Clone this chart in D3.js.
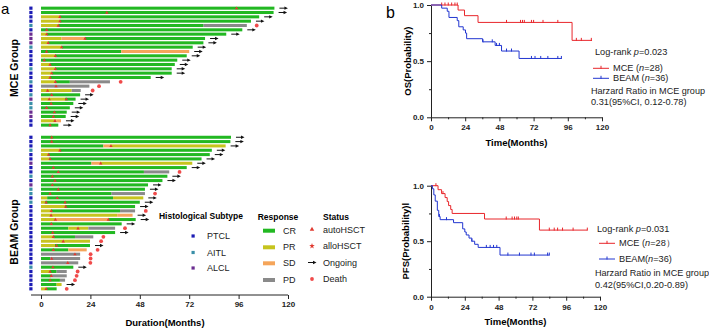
<!DOCTYPE html>
<html>
<head>
<meta charset="utf-8">
<script src="https://cdn.jsdelivr.net/npm/d3@7"></script>
<style>
  body { margin: 0; background: #fff; }
  svg { display: block; font-family: Arial, "Liberation Sans", sans-serif; }
</style>
</head>
<body>
<div id="chart"></div>
<script>
// ---------- swimmer plot data (months) ----------
const mceSubtype = ["P","P","P","P","A","P","L","L","L","A","P","P","P","P","A","P","P","A","P","P","A","L","A","A","L","L","P","P"];
const mceBars = [
  [["CR",113.4]], [["CR",113]], [["PR",9.2],["CR",106]], [["PR",9.2],["CR",102]],
  [["PR",8.4],["CR",79],["PD",100]], [["CR",97.8]], [["PR",2.8],["CR",90]],
  [["PR",10],["SD",21.4],["CR",79.7]], [["PR",3.5],["CR",78.9]], [["PR",10],["CR",73.7]],
  [["CR",39],["SD",72]], [["PR",6.8],["CR",70.8]], [["CR",66.2]], [["PR",4.4],["CR",65]],
  [["PR",6.8],["CR",63.5]], [["PR",5.2],["CR",63.5]], [["PR",4.4],["CR",53.3]],
  [["PR",6.8],["CR",14],["PD",33.5]], [["PD",23.5]], [["PR",14.9],["PD",19.3]],
  [["CR",19]], [["PR",11.7],["CR",16.8]], [["CR",15.7]], [["CR",14]], [["CR",12.5]],
  [["CR",12]], [["PR",7.6],["SD",9.7]], [["CR",8.4]]
];
const mceHsct = [[95],[32],[9.2],[9.2],[8.4],[2.8],[2.8],[21.4],[3.5],[10],[2.7],[7],[1.6],[4.4],
  [7],[5.2],[4.4],[7],[7.3],[3.2],[5.2],[4,12.3],[4.9],[2.7],[6.5],[6],[6.8],[4.4]];
const mceDeath = [null,null,null,null,104.8,null,null,null,null,null,null,null,null,null,
  null,null,null,38.7,28.2,25.1,null,null,null,null,null,null,null,null];

const beamSubtype = ["P","P","P","A","P","P","L","P","P","A","P","L","A","A","P","A","P","P",
  "P","P","P","P","P","P","P","P","P","P","P","P","A","P","P","P","P","P"];
const beamBars = [
  [["CR",92.3]], [["CR",92]], [["CR",30.3],["SD",33.5],["PR",89.7]], [["PR",9.2],["CR",83]],
  [["PR",3.5],["CR",82]], [["PR",4],["CR",78]], [["CR",24.5],["SD",28.7],["PR",73.5]],
  [["CR",70.8]], [["CR",50],["PD",62.3]], [["CR",61.4]], [["CR",59]], [["CR",52]],
  [["CR",50.5]], [["CR",34.3],["PD",50.5]], [["PR",3],["CR",35],["PR",49.7]],
  [["PR",2],["CR",48]], [["PR",11.7],["CR",45.7]], [["PR",4.9],["CR",38.4],["PD",45.7]],
  [["PR",37],["SD",44.5]], [["PR",6.8],["SD",32.7],["CR",46]], [["CR",39.2]],
  [["CR",13.3],["PR",23],["PD",36]], [["CR",36]], [["PR",6],["CR",16.5],["PD",25.4]],
  [["PR",23.8]], [["PR",6.8],["CR",23.8]], [["CR",13.3],["SD",22.2]], [["PD",19]],
  [["CR",4.4],["PD",19]], [["PD",18.1]], [["CR",15.7]], [["PR",4.4],["CR",7.6],["PD",12.5]],
  [["CR",5],["PD",12.5]], [["CR",9.2],["PD",11.7]], [["CR",7.6],["PR",10]], [["PR",2.7],["CR",7.6]]
];
const beamHsct = [[5.2],[5.2],[34],[9.2],[3.7],[4.4],[29],[6],[8.4],[5.5],[6.8],[5.5],[8.4],[4.4],
  [7.9],[2.5,11.7],[12],[5],[4.9],[7,32.7],[5],[18],[5.7],[6],[10.8],[7.6],[6],[16.5],[5.2],[13],
  [5.8],[4.4],[5],[4.4],[],[2.5]];
const beamDeath = [null,null,null,null,null,null,null,null,67.3,null,null,null,null,55.4,null,null,
  null,50.9,null,null,null,40.8,null,30.3,29.2,null,27.5,24.1,24.1,24,null,17.8,17.3,16.5,null,12.5];

const durationTicks = [0, 24, 48, 72, 96, 120];
const subtypeNames = [["P","PTCL"],["A","AITL"],["L","ALCL"]];
const responseNames = ["CR","PR","SD","PD"];
const statusNames = ["autoHSCT","alloHSCT","Ongoing","Death"];

// ---------- Kaplan-Meier data (months, probability) ----------
const osMceTime = [0, 19, 23.5, 33, 99];
const osMceSurv = [1, 0.955, 0.905, 0.845, 0.685];
const osMceCensor = [7.5, 9.8, 12.1, 14.5, 16.8, 18.4, 53, 62.8, 64.2, 65.5, 70.5, 72, 78.6, 89, 102, 105.5, 112.5];
const osMceEnd = 113;
const osBeamTime = [0, 7.5, 11.4, 12.6, 18.4, 19.5, 22.6, 24.2, 25, 36.2, 45, 49.5, 61.8];
const osBeamSurv = [1, 0.972, 0.944, 0.889, 0.861, 0.806, 0.778, 0.75, 0.70, 0.672, 0.64, 0.59, 0.524];
const osBeamCensor = [36.5, 43, 46, 48, 53, 56.5, 70.5, 73, 77, 82, 89, 91.5];
const osBeamEnd = 91.5;

const pfsMceTime = [0, 5, 7.5, 10, 11.5, 12.5, 14, 15, 38, 77];
const pfsMceSurv = [1, 0.964, 0.929, 0.893, 0.857, 0.821, 0.786, 0.75, 0.70, 0.60];
const pfsMceCensor = [3.5, 8.5, 53.4, 57.6, 59.3, 60.9, 62, 84, 87.5, 89.9, 93.4, 100.9, 111];
const pfsMceEnd = 111;
const pfsBeamTime = [0, 1, 2, 3, 4.5, 5.5, 6.5, 16, 22.5, 24, 25, 27, 29, 31, 33.5, 49];
const pfsBeamSurv = [1, 0.972, 0.917, 0.861, 0.778, 0.722, 0.694, 0.667, 0.611, 0.583, 0.556, 0.528, 0.50, 0.472, 0.444, 0.375];
const pfsBeamCensor = [6, 11, 29, 39.3, 42, 44.4, 46.7, 54.6, 62.8, 71, 73.4, 82.8, 84];
const pfsBeamEnd = 84;

const kmTicks = [0, 24, 48, 72, 96, 120];
const kmMinor = [12, 36, 60, 84, 108];

// ---------- colours ----------
const respColor = {CR: "#22b822", PR: "#c6c41e", SD: "#f5a55a", PD: "#8a8a8a"};
const typeColor = {P: "#1c1cb4", A: "#3a8fa8", L: "#6a2d90"};
const red = "#e0392f";
const kmRed = "#e8262b", kmBlue = "#2236d0";

const svg = d3.select("#chart").append("svg")
  .attr("width", 709).attr("height", 328);

// ---------- panel a ----------
const x = d3.scaleLinear().domain([0, 120]).range([41, 288]);
const yMce = d3.scaleBand().domain(d3.range(mceBars.length)).range([6, 127.3]).paddingInner(0.3).paddingOuter(0.15);
const yBeam = d3.scaleBand().domain(d3.range(beamBars.length)).range([135.1, 291]).paddingInner(0.3).paddingOuter(0.15);

const triSmall = d3.symbol().type(d3.symbolTriangle).size(5)();
const tri = d3.symbol().type(d3.symbolTriangle).size(9)();
const star = d3.symbol().type(d3.symbolStar).size(10)();

function drawArrow(g, x0, cy) {
  g.append("line").attr("x1", x0).attr("x2", x0 + 6).attr("y1", cy).attr("y2", cy)
    .attr("stroke", "#111").attr("stroke-width", 1);
  g.append("path").attr("d", `M${x0 + 8.5},${cy} L${x0 + 5},${cy - 1.7} L${x0 + 5},${cy + 1.7} Z`).attr("fill", "#111");
}

function drawGroup(bars, types, hsct, death, y) {
  const g = svg.append("g");
  const bw = y.bandwidth();
  bars.forEach((segs, i) => {
    const cy = y(i) + bw / 2;
    let start = 0;
    segs.forEach(([r, end]) => {
      g.append("rect").attr("x", x(start)).attr("y", y(i))
        .attr("width", x(end) - x(start)).attr("height", bw).attr("fill", respColor[r]);
      start = end;
    });
    g.append("rect").attr("x", 29.3).attr("y", cy - 1.6).attr("width", 3.2).attr("height", 3.2)
      .attr("fill", typeColor[types[i]]);
    hsct[i].forEach(t => g.append("path").attr("d", triSmall)
      .attr("transform", `translate(${x(t)},${cy + 0.2})`).attr("fill", red));
    if (death[i] != null) {
      g.append("circle").attr("cx", x(death[i])).attr("cy", cy).attr("r", 1.9).attr("fill", "#f04a4a");
    } else {
      drawArrow(g, x(start) + 5, cy);
    }
  });
}
drawGroup(mceBars, mceSubtype, mceHsct, mceDeath, yMce);
drawGroup(beamBars, beamSubtype, beamHsct, beamDeath, yBeam);

const axA = svg.append("g").attr("transform", "translate(0,295)")
  .call(d3.axisBottom(x).tickValues(durationTicks).tickSize(4).tickSizeOuter(0));
axA.select(".domain").attr("d", "M31,0H288").attr("stroke", "#222");
axA.selectAll(".tick line").attr("stroke", "#222");
axA.selectAll("text").attr("font-size", 8).attr("font-weight", "bold").attr("dy", "0.6em").attr("fill", "#222");

svg.append("text").attr("x", 165).attr("y", 322).attr("dominant-baseline", "central")
  .attr("text-anchor", "middle").attr("font-size", 9.5).attr("font-weight", "bold").text("Duration(Months)");
svg.append("text").attr("transform", "translate(14,68) rotate(-90)").attr("text-anchor", "middle")
  .attr("dominant-baseline", "central").attr("font-size", 10.5).attr("font-weight", "bold").text("MCE Group");
svg.append("text").attr("transform", "translate(14,232) rotate(-90)").attr("text-anchor", "middle")
  .attr("dominant-baseline", "central").attr("font-size", 10.5).attr("font-weight", "bold").text("BEAM Group");
svg.append("text").attr("x", 1).attr("y", 8).attr("dominant-baseline", "central")
  .attr("font-size", 15).text("a");

// legends
const leg = svg.append("g").attr("font-size", 9);
leg.append("text").attr("x", 201).attr("y", 216).attr("text-anchor", "middle").attr("dominant-baseline", "central")
  .attr("font-size", 8.5).attr("font-weight", "bold").text("Histological Subtype");
const subY = [236, 252.5, 268];
subtypeNames.forEach(([k, name], i) => {
  leg.append("rect").attr("x", 191.5).attr("y", subY[i] - 1.6).attr("width", 3.2).attr("height", 3.2).attr("fill", typeColor[k]);
  leg.append("text").attr("x", 207).attr("y", subY[i]).attr("dominant-baseline", "central").attr("fill", "#222").text(name);
});
leg.append("text").attr("x", 278).attr("y", 217).attr("text-anchor", "middle").attr("dominant-baseline", "central")
  .attr("font-size", 8.5).attr("font-weight", "bold").text("Response");
const respY = [230.7, 247.3, 263.3, 280];
responseNames.forEach((r, i) => {
  leg.append("rect").attr("x", 263).attr("y", respY[i] - 2).attr("width", 12).attr("height", 4).attr("fill", respColor[r]);
  leg.append("text").attr("x", 283).attr("y", respY[i]).attr("dominant-baseline", "central").attr("fill", "#222").text(r);
});
leg.append("text").attr("x", 323).attr("y", 217).attr("dominant-baseline", "central")
  .attr("font-size", 8.5).attr("font-weight", "bold").text("Status");
const statY = [229.5, 246, 262.5, 279];
statusNames.forEach((s, i) => {
  const cx = 312, cy = statY[i];
  if (i === 0) leg.append("path").attr("d", tri).attr("transform", `translate(${cx},${cy})`).attr("fill", red);
  if (i === 1) leg.append("path").attr("d", star).attr("transform", `translate(${cx},${cy})`).attr("fill", red);
  if (i === 2) drawArrow(leg, cx - 4, cy);
  if (i === 3) leg.append("circle").attr("cx", cx).attr("cy", cy).attr("r", 1.9).attr("fill", "#f04a4a");
  leg.append("text").attr("x", 323).attr("y", cy).attr("dominant-baseline", "central").attr("fill", "#222").text(s);
});

// ---------- panel b ----------
function drawKM(g, xs, ys, times, surv, end, censor, color) {
  const pts = [[0, surv[0]]];
  for (let k = 1; k < times.length; k++) {
    pts.push([times[k], surv[k - 1]]);
    pts.push([times[k], surv[k]]);
  }
  pts.push([end, surv[surv.length - 1]]);
  g.append("path").attr("d", d3.line().x(d => xs(d[0])).y(d => ys(d[1]))(pts))
    .attr("fill", "none").attr("stroke", color).attr("stroke-width", 1);
  censor.forEach(t => {
    const k = d3.bisectRight(times, t) - 1;
    const yy = ys(surv[k]);
    g.append("line").attr("x1", xs(t)).attr("x2", xs(t)).attr("y1", yy - 2.5).attr("y2", yy + 0.5)
      .attr("stroke", color).attr("stroke-width", 1);
  });
}

function drawPanel(cfg) {
  const xs = d3.scaleLinear().domain([0, 120]).range([431, cfg.xEnd]);
  const ys = d3.scaleLinear().domain([0, 1]).range([cfg.y0, cfg.y1]);
  const g = svg.append("g");

  const ax = g.append("g").attr("transform", `translate(0,${cfg.y0})`)
    .call(d3.axisBottom(xs).tickValues(kmTicks).tickSize(4).tickSizeOuter(0));
  g.append("g").attr("transform", `translate(0,${cfg.y0})`)
    .call(d3.axisBottom(xs).tickValues(kmMinor).tickSize(2).tickFormat(""))
    .select(".domain").remove();
  const ay = g.append("g").attr("transform", "translate(431,0)")
    .call(d3.axisLeft(ys).tickValues([0, 0.5, 1]).tickFormat(d3.format(".1f")).tickSize(4).tickSizeOuter(0));
  g.append("g").attr("transform", "translate(431,0)")
    .call(d3.axisLeft(ys).tickValues([0.25, 0.75]).tickSize(2).tickFormat(""))
    .select(".domain").remove();
  g.selectAll(".domain, .tick line").attr("stroke", "#222");
  [ax, ay].forEach(a => a.selectAll("text").attr("font-size", 8).attr("font-weight", "bold").attr("fill", "#222"));
  ax.selectAll("text").attr("dy", "0.75em");

  drawKM(g, xs, ys, cfg.mce[0], cfg.mce[1], cfg.mce[2], cfg.mce[3], kmRed);
  drawKM(g, xs, ys, cfg.beam[0], cfg.beam[1], cfg.beam[2], cfg.beam[3], kmBlue);

  g.append("text").attr("x", (431 + cfg.xEnd) / 2).attr("y", cfg.y0 + 25).attr("text-anchor", "middle")
    .attr("dominant-baseline", "central").attr("font-size", 9.5).attr("font-weight", "bold").text("Time(Months)");
  g.append("text").attr("transform", `translate(${cfg.ylx},${(cfg.y0 + cfg.y1) / 2}) rotate(-90)`)
    .attr("text-anchor", "middle").attr("dominant-baseline", "central")
    .attr("font-size", 9.5).attr("font-weight", "bold").text(cfg.ylab);

  const t = g.append("g").attr("font-size", 9.2).attr("fill", "#222");
  const lr = t.append("text").attr("x", cfg.lx).attr("y", cfg.ly[0]).attr("dominant-baseline", "central");
  lr.append("tspan").text("Log-rank ");
  lr.append("tspan").attr("font-style", "italic").text("p");
  lr.append("tspan").text(cfg.p);
  [[kmRed, cfg.mceLab, cfg.ly[1]], [kmBlue, cfg.beamLab, cfg.ly[2]]].forEach(([c, lab, yy]) => {
    t.append("line").attr("x1", cfg.llx).attr("x2", cfg.llx + 16).attr("y1", yy).attr("y2", yy).attr("stroke", c);
    t.append("line").attr("x1", cfg.llx + 8).attr("x2", cfg.llx + 8).attr("y1", yy - 2.5).attr("y2", yy + 0.5).attr("stroke", c);
    const tx = t.append("text").attr("x", cfg.llx + 20).attr("y", yy).attr("dominant-baseline", "central");
    tx.append("tspan").text(lab[0]);
    tx.append("tspan").attr("font-style", "italic").text("n");
    tx.append("tspan").text(lab[1]);
  });
  t.append("text").attr("x", cfg.hx).attr("y", cfg.ly[3]).attr("dominant-baseline", "central")
    .attr("textLength", 114).attr("lengthAdjust", "spacingAndGlyphs").text("Harzard Ratio in MCE group");
  t.append("text").attr("x", cfg.hx).attr("y", cfg.ly[4]).attr("dominant-baseline", "central").text(cfg.hr);
}

drawPanel({
  xEnd: 602, y0: 117.3, y1: 5, ylx: 407, ylab: "OS(Probability)",
  mce: [osMceTime, osMceSurv, osMceEnd, osMceCensor],
  beam: [osBeamTime, osBeamSurv, osBeamEnd, osBeamCensor],
  lx: 595, llx: 593, hx: 591, ly: [52.3, 68.3, 78.3, 91, 101.5], p: "=0.023",
  mceLab: ["MCE (", "=28)"], beamLab: ["BEAM (", "=36)"], hr: "0.31(95%CI, 0.12-0.78)"
});
drawPanel({
  xEnd: 600, y0: 296.7, y1: 185.7, ylx: 405, ylab: "PFS(Probability)l",
  mce: [pfsMceTime, pfsMceSurv, pfsMceEnd, pfsMceCensor],
  beam: [pfsBeamTime, pfsBeamSurv, pfsBeamEnd, pfsBeamCensor],
  lx: 597, llx: 599, hx: 595, ly: [229, 243.3, 259, 273.3, 285], p: "=0.031",
  mceLab: ["MCE (", "=28）"], beamLab: ["BEAM(", "=36)"], hr: "0.42(95%CI,0.20-0.89)"
});

svg.append("text").attr("x", 386).attr("y", 12).attr("dominant-baseline", "central")
  .attr("font-size", 16).text("b");
</script>
</body>
</html>
